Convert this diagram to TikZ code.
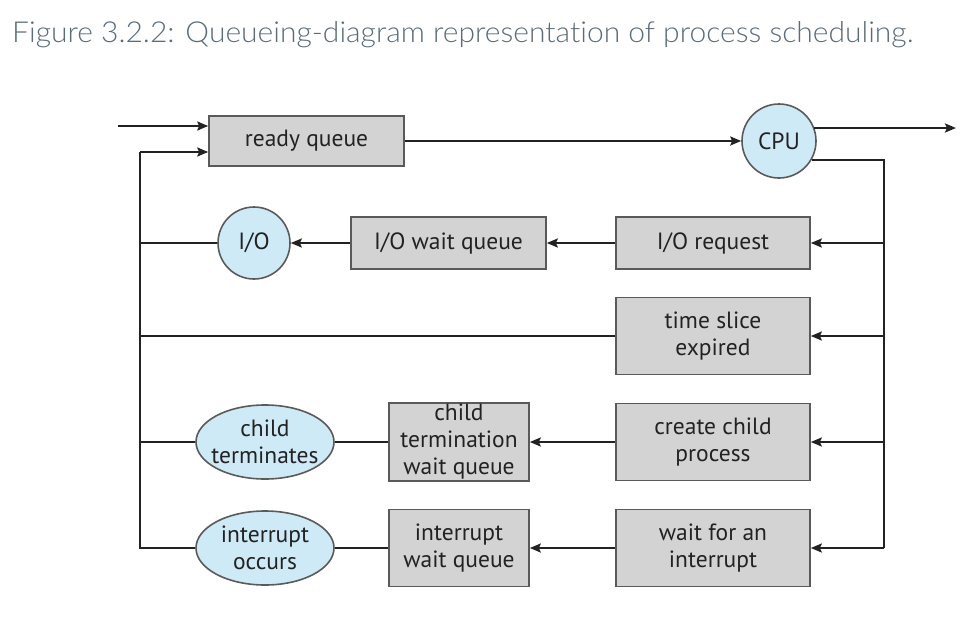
\documentclass[tikz,border=0pt]{standalone}
\usepackage{fontspec}
\setmainfont{PT Sans}
\newfontfamily\titlefont{Lato}[UprightFont=* Light, Ligatures=NoCommon]
\usetikzlibrary{shapes.geometric,arrows.meta}
\definecolor{boxfill}{HTML}{D3D3D3}
\definecolor{boxline}{HTML}{5A5A5A}
\definecolor{bubble}{HTML}{CFEAF7}
\definecolor{ink}{HTML}{222222}
\definecolor{titlecol}{HTML}{5A6B7A}
\tikzset{
  qfont/.style={font=\fontsize{23.5}{27}\selectfont},
  qbox/.style={draw=boxline, line width=1.6pt, fill=boxfill, align=center, text=ink, qfont, inner sep=0pt},
  bubblec/.style={circle, draw=boxline, line width=1.6pt, fill=bubble, text=ink, qfont, inner sep=0pt},
  bubblee/.style={ellipse, draw=boxline, line width=1.6pt, fill=bubble, align=center, text=ink, qfont, inner xsep=-6pt, inner ysep=-2pt},
  conn/.style={draw=ink, line width=2.8pt},
  arr/.style={conn, -{Stealth[length=11pt,width=9pt,inset=2pt]}},
}
\begin{document}
\begin{tikzpicture}[x=1pt,y=-1pt]
\useasboundingbox (0,0) rectangle (976,618);
\node[anchor=base west, text=titlecol, inner sep=0pt] (title) at (12,43) {\resizebox{901pt}{21pt}{\titlefont\fontsize{28}{30}\selectfont Figure 3.2.2: Queueing-diagram representation of process scheduling.}};

% nodes
\node[qbox, minimum width=195pt, minimum height=50pt] (rq) at (306.5,141) {ready queue};
\node[bubblec, minimum size=74pt] (cpu) at (779,141) {CPU};
\node[qbox, minimum width=194pt, minimum height=52pt] (ioreq) at (713,243) {I/O request};
\node[qbox, minimum width=195pt, minimum height=52pt] (iowq) at (448.5,243) {I/O wait queue};
\node[bubblec, minimum size=72pt] (io) at (254,243) {I/O};
\node[qbox, minimum width=194pt, minimum height=77pt] (tse) at (713,336) {time slice\\expired};
\node[qbox, minimum width=194pt, minimum height=77pt] (ccp) at (713,442) {create child\\process};
\node[qbox, minimum width=140pt, minimum height=78pt] (ctwq) at (459,442) {child\\termination\\wait queue};
\node[bubblee, minimum width=138pt, minimum height=74pt] (ct) at (265,442) {child\\terminates};
\node[qbox, minimum width=194pt, minimum height=77pt] (wfi) at (713,548) {wait for an\\interrupt};
\node[qbox, minimum width=140pt, minimum height=77pt] (iwq) at (459,548) {interrupt\\wait queue};
\node[bubblee, minimum width=138pt, minimum height=74pt] (io2) at (265,548) {interrupt\\occurs};

% coordinates
\coordinate (in1) at (118,126);
\coordinate (in2) at (140,152);
\coordinate (out) at (956,128);
\coordinate (rx) at (884,0);
\coordinate (rtop) at (rx |- cpu.-30);
\coordinate (rbot) at (884,548);
\coordinate (lbot) at (140,548);

% connectors
\draw[arr] (in1) -- (in1 -| rq.west);
\draw[arr] (in2) -- (in2 -| rq.west);
\draw[arr] (rq.east) -- (cpu.west);
\draw[arr] (cpu.east |- out) ++(-3,0) -- (out);
\draw[conn] (cpu.-30) -- (rtop) -- (rbot);
\draw[arr] (rtop |- ioreq) -- (ioreq.east);
\draw[arr] (rtop |- tse) -- (tse.east);
\draw[arr] (rtop |- ccp) -- (ccp.east);
\draw[arr] (rbot) -- (wfi.east);
\draw[arr] (ioreq.west) -- (iowq.east);
\draw[arr] (iowq.west) -- (io.east);
\draw[arr] (ccp.west) -- (ctwq.east);
\draw[arr] (wfi.west) -- (iwq.east);
\draw[conn] (ctwq.west) -- (ct.east);
\draw[conn] (iwq.west) -- (io2.east);
\draw[conn] (in2) -- (lbot) -- (io2.west);
\draw[conn] (io.west) -- (io.west -| in2);
\draw[conn] (tse.west) -- (tse.west -| in2);
\draw[conn] (ct.west) -- (ct.west -| in2);
\end{tikzpicture}
\end{document}
